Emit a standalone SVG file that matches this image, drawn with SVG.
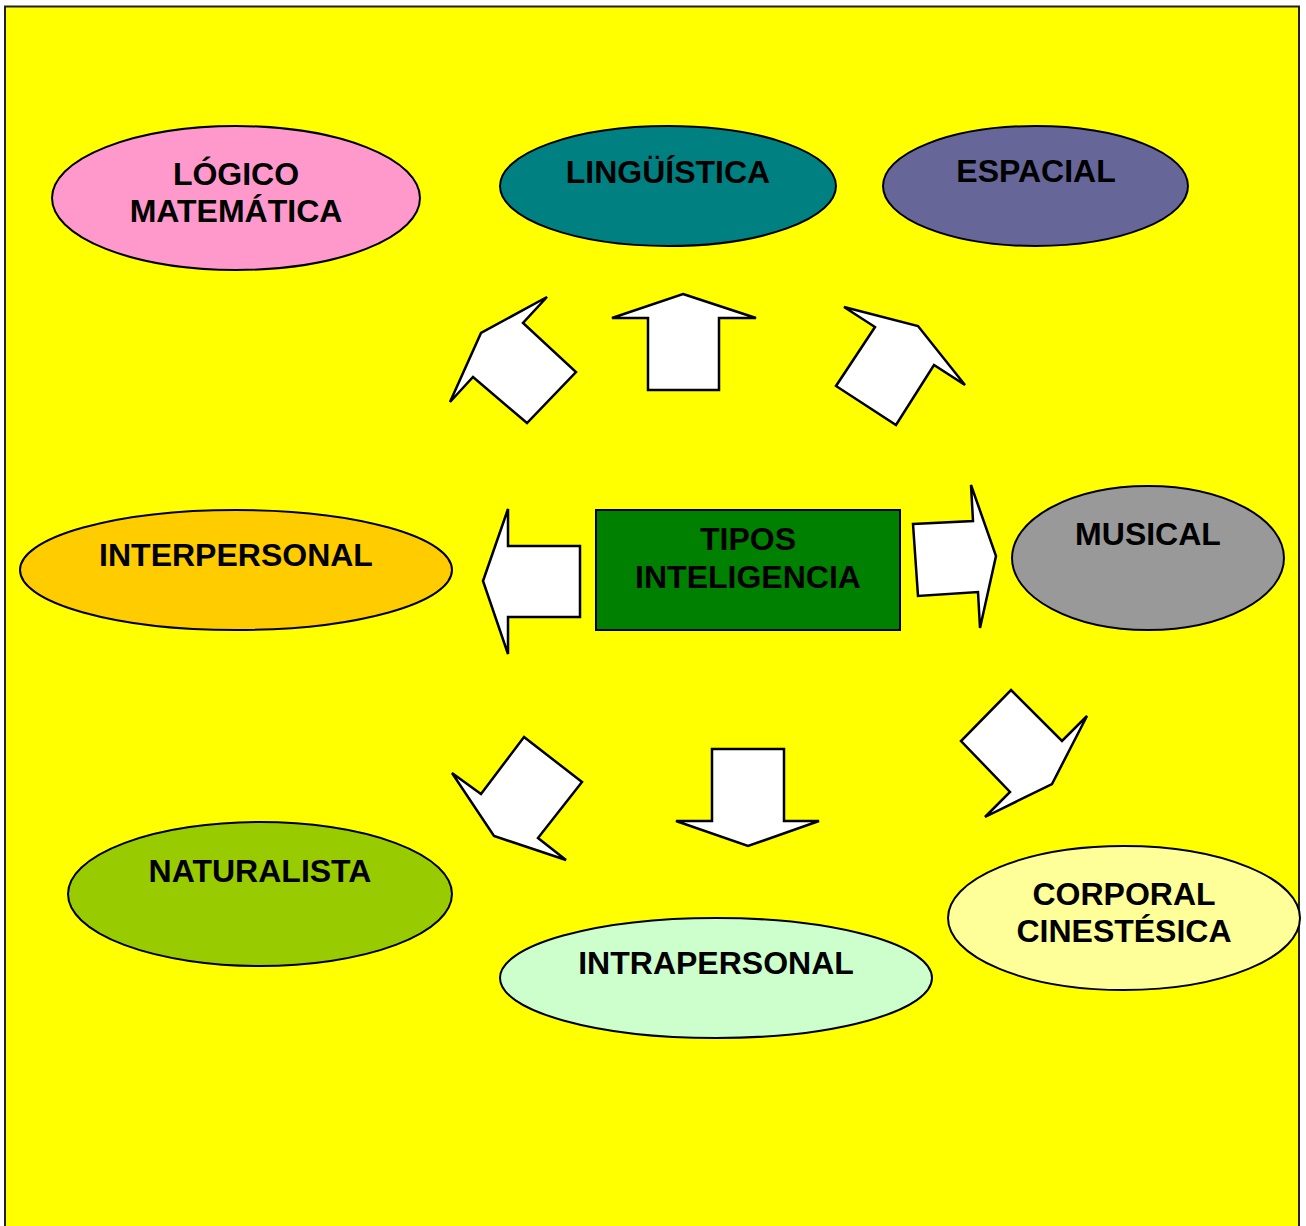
<svg xmlns="http://www.w3.org/2000/svg" width="1306" height="1226" viewBox="0 0 1306 1226">
  <style>
    .node { stroke: #000; stroke-width: 2; }
    .lbl { font-family: "Liberation Sans", Arial, sans-serif; font-weight: bold; font-size: 32px; fill: #000; text-anchor: middle; }
    .arrow { fill: #fff; stroke: #000; stroke-width: 2.5; stroke-linejoin: miter; }
  </style>
  <!-- background panel -->
  <rect x="0" y="0" width="1306" height="1226" fill="#fff"/>
  <rect x="5" y="6.5" width="1294" height="1230" fill="#ffff00" stroke="#222" stroke-width="2"/>

  <g id="logico-matematica">
    <ellipse class="node" cx="236" cy="198" rx="184" ry="72" fill="#ff99cc"/>
    <text class="lbl" x="236" y="185">LÓGICO</text>
    <text class="lbl" x="236" y="222">MATEMÁTICA</text>
  </g>
  <g id="linguistica">
    <ellipse class="node" cx="668" cy="186" rx="168" ry="60" fill="#008080"/>
    <text class="lbl" x="668" y="183">LINGÜÍSTICA</text>
  </g>
  <g id="espacial">
    <ellipse class="node" cx="1035.5" cy="186" rx="152.5" ry="60" fill="#666699"/>
    <text class="lbl" x="1036" y="182">ESPACIAL</text>
  </g>
  <g id="interpersonal">
    <ellipse class="node" cx="236" cy="570" rx="216" ry="60" fill="#ffcc00"/>
    <text class="lbl" x="236" y="566">INTERPERSONAL</text>
  </g>
  <g id="tipos-inteligencia">
    <rect class="node" x="596" y="510" width="304" height="120" fill="#008000"/>
    <text class="lbl" x="748" y="550">TIPOS</text>
    <text class="lbl" x="748" y="588">INTELIGENCIA</text>
  </g>
  <g id="musical">
    <ellipse class="node" cx="1148" cy="558" rx="136" ry="72" fill="#999999"/>
    <text class="lbl" x="1148" y="545">MUSICAL</text>
  </g>
  <g id="naturalista">
    <ellipse class="node" cx="260" cy="894" rx="192" ry="72" fill="#99cc00"/>
    <text class="lbl" x="260" y="882">NATURALISTA</text>
  </g>
  <g id="intrapersonal">
    <ellipse class="node" cx="716" cy="978" rx="216" ry="60" fill="#ccffcc"/>
    <text class="lbl" x="716" y="974">INTRAPERSONAL</text>
  </g>
  <g id="corporal-cinestesica">
    <ellipse class="node" cx="1124" cy="918" rx="176" ry="72" fill="#ffff99"/>
    <text class="lbl" x="1124" y="905">CORPORAL</text>
    <text class="lbl" x="1124" y="942">CINESTÉSICA</text>
  </g>

  <!-- block arrows radiating from the centre box -->
  <g id="connectors">
    <polygon class="arrow" points="450,402 473,377 527,423 576,372 523,323 547,297 481,333"/>
    <polygon class="arrow" points="683,294 756,318 719,318 719,390 648,390 648,318 612,318"/>
    <polygon class="arrow" points="844,307 918,326 965,385 934,365 896,425 836,386 875,327"/>
    <polygon class="arrow" points="483,581 508,509 508,546 580,546 580,617 508,617 508,654"/>
    <polygon class="arrow" points="913,524 973,521 971,485 996,556 980,628 978,592 918,596"/>
    <polygon class="arrow" points="524,737 582,782 538,838 566,860 494,836 452,773 481,794"/>
    <polygon class="arrow" points="712,749 784,749 784,821 819,821 748,846 676,821 712,821"/>
    <polygon class="arrow" points="1011,690 1062,741 1087,716 1052,784 985,817 1010,792 961,741"/>
  </g>
</svg>
